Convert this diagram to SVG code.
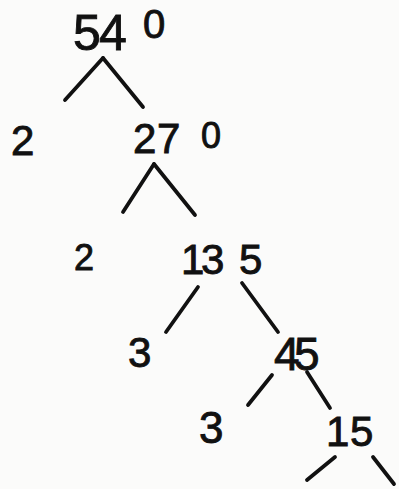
<svg xmlns="http://www.w3.org/2000/svg" width="399" height="489" viewBox="0 0 399 489">
<style>
.t{font-family:"Liberation Sans","DejaVu Sans",sans-serif;fill:#111;stroke:#111;stroke-width:0.9;font-size:42px}
.c line{stroke:#111;stroke-width:3.8;stroke-linecap:round}
</style>
<rect width="399" height="489" fill="#fbfbfa"/>
<g id="n540"><text class="t" style="font-size:50px" x="73 99 143" y="50">54<tspan style="font-size:40px" dy="-12">0</tspan></text></g>
<g id="n2a"><text class="t" x="11" y="155">2</text></g>
<g id="n270"><text class="t" x="133 157 201" y="153">27<tspan style="font-size:36px" dy="-5">0</tspan></text></g>
<g id="n2b"><text class="t" style="font-size:36px" x="74" y="270">2</text></g>
<g id="n135"><text class="t" x="181 201 239" y="274">135</text></g>
<g id="n3a"><text class="t" x="128" y="367">3</text></g>
<g id="n45"><text class="t" style="font-size:46px" x="274 294" y="370">45</text></g>
<g id="n3b"><text class="t" style="font-size:44px" x="199" y="443">3</text></g>
<g id="n15"><text class="t" x="326 350" y="446">15</text></g>
<g class="c" id="connectors">
<line x1="103" y1="58" x2="65" y2="100"/>
<line x1="103" y1="58" x2="143" y2="107"/>
<line x1="154" y1="164" x2="123" y2="212"/>
<line x1="154" y1="164" x2="195" y2="215"/>
<line x1="198" y1="287" x2="166" y2="332"/>
<line x1="242" y1="283" x2="278" y2="332"/>
<line x1="272" y1="375" x2="248" y2="405"/>
<line x1="307" y1="372" x2="330" y2="408"/>
<line x1="335" y1="457" x2="307" y2="480"/>
<line x1="373" y1="457" x2="394" y2="484"/>
</g>
</svg>
